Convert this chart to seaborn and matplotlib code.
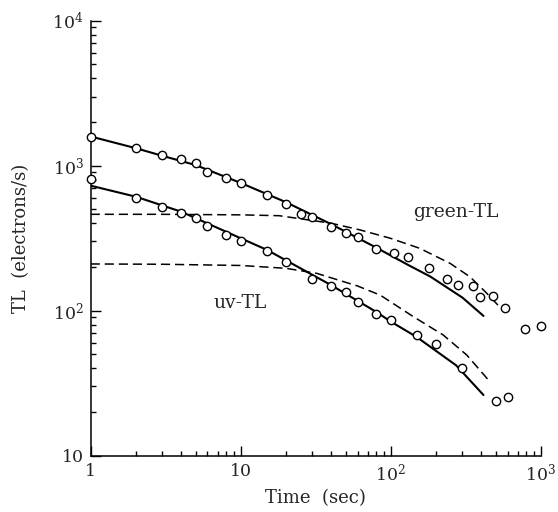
import matplotlib
matplotlib.use("Agg")
import matplotlib.pyplot as plt
import seaborn as sns
import pandas as pd

# measured TL decay (circles)
green_t = [1, 2, 3, 4, 5, 6, 8, 10, 15, 20, 25, 30, 40, 50, 60, 80, 105, 130,
           180, 235, 280, 350, 390, 480, 580, 780, 1000]
green_tl = [1570, 1325, 1191, 1110, 1040, 909, 826, 756, 628, 547, 462, 441, 380,
            345, 322, 265, 250, 234, 196, 165, 150, 148, 125, 126, 105, 75, 79]

uv_t = [1, 2, 3, 4, 5, 6, 8, 10, 15, 20, 30, 40, 50, 60, 80, 100, 150, 200,
        300, 500, 600]
uv_tl = [809, 602, 519, 474, 434, 386, 331, 303, 257, 217, 165, 147, 134, 115,
         95, 86, 68, 59, 40.5, 23.8, 25.5]

# model curves (solid)
green_fit_t = [1, 2, 3, 5, 10, 20, 40, 80, 130, 183, 300, 414]
green_fit = [1590, 1320, 1170, 1010, 760, 560, 395, 272, 207, 172, 123, 92]

uv_fit_t = [1, 2, 4, 8, 15, 40, 80, 100, 148, 272, 414]
uv_fit = [728, 611, 482, 350, 262, 150, 98, 84, 66, 42, 26.2]

# single-component curves (dashed)
green_comp_t = [1, 3, 10, 18, 40, 62, 99, 156, 248, 337, 435, 560]
green_comp = [462, 462, 458, 452, 401, 361, 316, 269, 212, 171, 132, 100]

uv_comp_t = [1, 3, 10, 20, 32, 60, 85, 141, 223, 320, 446]
uv_comp = [210, 209, 205, 196, 181, 148, 128, 91, 68, 49.5, 33.3]

x_ticks = [1, 10, 100, 1000]
x_tick_labels = ["1", "10", "10$^2$", "10$^3$"]
y_ticks = [10, 100, 1000, 10000]
y_tick_labels = ["10", "10$^2$", "10$^3$", "10$^4$"]

sns.set_style("ticks")
plt.rcParams["font.family"] = ["DejaVu Serif"]
plt.rcParams["mathtext.fontset"] = "dejavuserif"

fig = plt.figure(figsize=(5.58, 5.12), dpi=100)
ax = fig.add_axes([0.1625, 0.110, 0.807, 0.8496])
ax.set_xscale("log")
ax.set_yscale("log")

for t, v in [(green_fit_t, green_fit), (uv_fit_t, uv_fit)]:
    sns.lineplot(x=t, y=v, ax=ax, color="black", linewidth=1.5,
                 estimator=None, sort=False)
for t, v in [(green_comp_t, green_comp), (uv_comp_t, uv_comp)]:
    sns.lineplot(x=t, y=v, ax=ax, color="black", linewidth=1.1,
                 linestyle=(0, (6, 3.2)), estimator=None, sort=False)

pts = pd.DataFrame({"t": green_t + uv_t, "tl": green_tl + uv_tl})
sns.scatterplot(data=pts, x="t", y="tl", ax=ax, marker="o", s=36,
                facecolor="white", edgecolor="black", linewidth=1.0,
                zorder=5, clip_on=False)

ax.set_xlim(1, 1000)
ax.set_ylim(10, 10000)
ax.set_xticks(x_ticks)
ax.set_xticklabels(x_tick_labels)
ax.set_yticks(y_ticks)
ax.set_yticklabels(y_tick_labels)
ax.tick_params(which="both", direction="in", top=False, right=False,
               width=1.0, labelsize=12.5, color="black")
ax.tick_params(which="major", length=7.5, pad=5)
ax.tick_params(which="minor", length=3.5)

for side in ["top", "right"]:
    ax.spines[side].set_visible(False)
for side in ["left", "bottom"]:
    ax.spines[side].set_linewidth(1.1)
    ax.spines[side].set_color("black")

ax.set_xlabel("Time  (sec)", fontsize=13, labelpad=3)
ax.set_ylabel("TL  (electrons/s)", fontsize=13, labelpad=16)

ax.text(271, 480, "green-TL", fontsize=13.5, ha="center", va="center")
ax.text(9.9, 113, "uv-TL", fontsize=13.5, ha="center", va="center")

fig.savefig("out.png", dpi=100)
